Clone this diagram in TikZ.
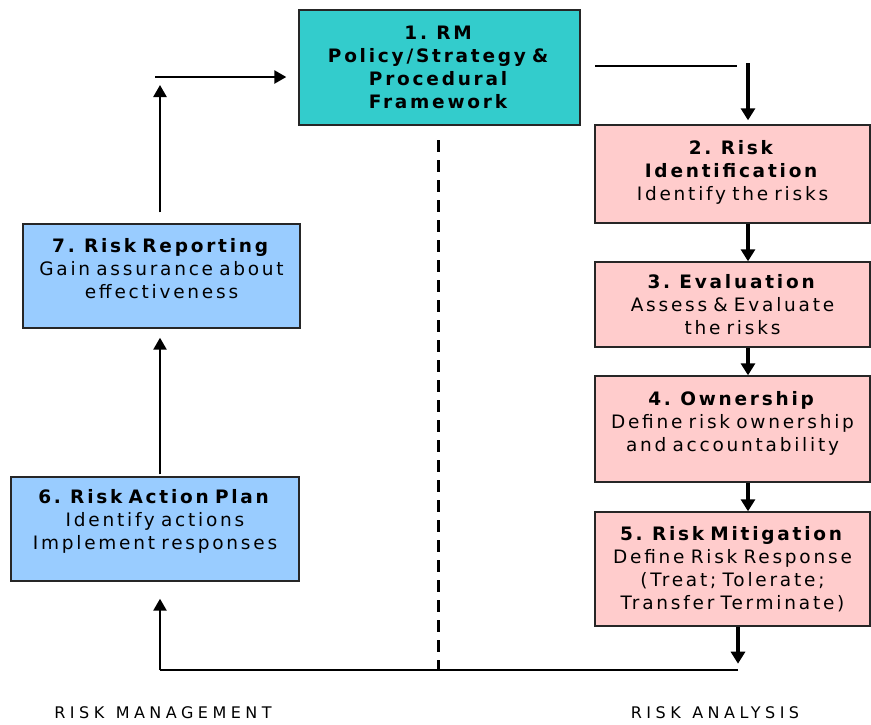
\documentclass[tikz,border=0pt]{standalone}
\usepackage{fontspec}
\setmainfont{DejaVu Sans}[LetterSpace=15,WordSpace=2.2]
\newfontfamily\capfont{DejaVu Sans}[LetterSpace=28,WordSpace=1.2]
\usepackage{tikz}
\usetikzlibrary{arrows.meta,positioning,calc}
\definecolor{rmteal}{HTML}{33CCCC}
\definecolor{rmpink}{HTML}{FFCCCC}
\definecolor{rmblue}{HTML}{99CCFF}

\begin{document}
\begin{tikzpicture}[x=1pt,y=-1pt]
\tikzstyle{every node}+=[font=\fontsize{18.5}{23}\selectfont]
\tikzstyle{box}=[draw=black!85,line width=1.4pt,align=center,inner xsep=1pt,inner ysep=0pt]
\tikzstyle{arr}=[line width=3.5pt,-{Triangle[length=12pt,width=14pt]}]
\tikzstyle{larr}=[line width=2.5pt,-{Triangle[length=12pt,width=13pt]}]
\tikzstyle{caption}=[font=\capfont\fontsize{16}{18}\selectfont]
\useasboundingbox (0,0) rectangle (871,724);
\node [box,fill=rmteal,text width=279pt,minimum height=115pt] (b1) at (439.5,67.5) {\textbf{1. RM}\\\textbf{Policy/Strategy \&}\\\textbf{Procedural}\\\textbf{Framework}};
\node [box,fill=rmpink,text width=273pt,minimum height=98pt,text depth=54pt] (b2) at (732.5,174) {\textbf{2. Risk}\\\textbf{Identification}\\Identify the risks};
\node [box,fill=rmpink,text width=273pt,minimum height=85pt] (b3) at (732.5,304.5) {\textbf{3. Evaluation}\\Assess \& Evaluate\\the risks};
\node [box,fill=rmpink,text width=273pt,minimum height=106pt,text depth=62pt] (b4) at (732.5,429) {\textbf{4. Ownership}\\Define risk ownership\\and accountability};
\node [box,fill=rmpink,text width=273pt,minimum height=114pt] (b5) at (732.5,569) {\textbf{5. Risk Mitigation}\\Define Risk Response\\(Treat; Tolerate;\\Transfer Terminate)};
\node [box,fill=rmblue,text width=275pt,minimum height=104pt,text depth=61pt] (b7) at (161.5,276) {\textbf{7. Risk Reporting}\\Gain assurance about\\effectiveness};
\node [box,fill=rmblue,text width=286pt,minimum height=104pt,text depth=65pt] (b6) at (155,529) {\textbf{6. Risk Action Plan}\\Identify actions\\Implement responses};
\node [caption] (rm) at (163,713) {RISK MANAGEMENT};
\node [caption] (ra) at (715,713) {RISK ANALYSIS};
\coordinate (ax) at (748,0);
\coordinate (c1) at (595,66);
\coordinate (c2) at (737,66);
\coordinate (c3) at (748,63);
\coordinate (k1) at (160,85);
\coordinate (k2) at (155,77);
\coordinate (k3) at (738,670);
\coordinate (k4) at (160,670);
\coordinate (d1) at (438,140);
\coordinate (d2) at (438,670);
\draw [line width=1.5pt] (c1) -- (c2);
\draw [arr,shorten >=4pt] (c3) -- (c3 |- b2.north);
\draw [arr] (b2.south -| ax) -- (b3.north -| ax);
\draw [arr] (b3.south -| ax) -- (b4.north -| ax);
\draw [arr] (b4.south -| ax) -- (b5.north -| ax);
\draw [arr] (b5.south -| k3) -- ++(0,37);
\draw [line width=2pt] (k3) -- (k4);
\draw [larr,shorten >=17pt] (k4) -- (k4 |- b6.south);
\draw [larr,shorten <=2pt,shorten >=9pt] (b6.north -| k1) -- (b7.south -| k1);
\draw [larr,shorten <=11pt] (b7.north -| k1) -- (k1);
\draw [larr,shorten >=12pt] (k2) -- (k2 -| b1.west);
\draw [line width=3pt,dash pattern=on 12pt off 8pt] (d1) -- (d2);
\end{tikzpicture}
\end{document}
